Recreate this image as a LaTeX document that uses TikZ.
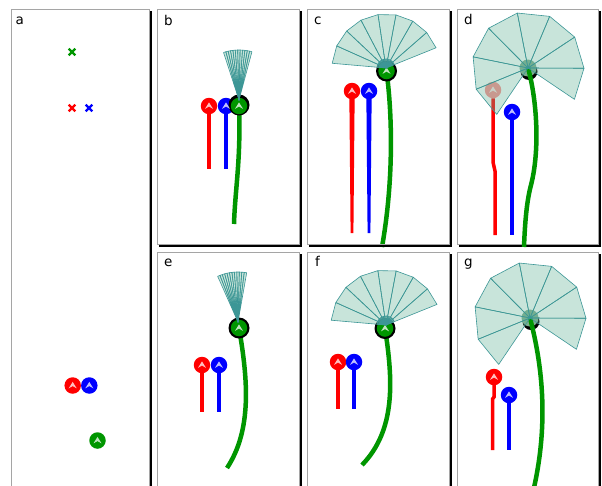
\documentclass[tikz,border=0pt]{standalone}
\usepackage{fontspec}
\setmainfont{DejaVu Sans}
\usetikzlibrary{shapes.misc,calc}
\pgfdeclarelayer{paper}
\pgfdeclarelayer{bg}
\pgfdeclarelayer{fg}
\pgfsetlayers{paper,bg,main,fg}
\definecolor{cR}{RGB}{255,0,0}
\definecolor{cB}{RGB}{0,0,255}
\definecolor{cG}{RGB}{0,150,0}
\definecolor{fanfill}{RGB}{100,180,150}
\definecolor{fanedge}{RGB}{60,150,150}
\definecolor{frm}{RGB}{165,165,165}
\definecolor{hub}{RGB}{125,172,142}
\newcommand\panelbox[4]{%
  \draw[frshade] (#3+2,#2+2) -- (#3+2,#4+2) -- (#1+2,#4+2);
  \draw[frame] (#1,#2) rectangle (#3,#4);}
\tikzset{
  frame/.style={draw=frm, line width=0.9pt},
  frshade/.style={draw=black, line width=1.1pt},
  lab/.style={anchor=base west, inner sep=0pt, font=\fontsize{13.5}{16}\selectfont},
  mk/.style={circle, fill=#1, minimum size=16.5pt, inner sep=0pt},
  ring/.style={circle, fill=black, minimum size=#1, inner sep=0pt},
  hubdisk/.style={circle, fill=hub, minimum size=17pt, inner sep=0pt},
  xmark/.style={cross out, draw=#1, line width=2.2pt, minimum size=4.5pt, inner sep=0pt},
  stem/.style={draw=#1, line width=3.5pt},
  gstem/.style={draw=cG, line width=4.5pt},
  fanseg/.style={fill=fanfill, fill opacity=0.35, draw=fanedge, line width=0.6pt, line join=round},
  pics/chev/.style={code={\fill[white, fill opacity=0.75] (-4,2.8) -- (0,-3.6) -- (4,2.8) -- (0,0.6) -- cycle;}},
  pics/fan/.style n args={4}{code={
    \foreach \k in {1,...,#3}{
      \pgfmathsetmacro\fanA{-(#1+(\k-1)*(#2-#1)/#3)}
      \pgfmathsetmacro\fanB{-(#1+\k*(#2-#1)/#3)}
      \filldraw[fanseg] (0,0) -- (\fanA:#4) -- (\fanB:#4) -- cycle;
    }
  }},
}
\begin{document}
\begin{tikzpicture}[x=1pt,y=-1pt]
\useasboundingbox (0,0) rectangle (602,485);
\clip (0,0) rectangle (602,485);
\begin{pgfonlayer}{paper}
\fill[white] (0,0) rectangle (602,485);
\end{pgfonlayer}

% ---------- panel a
\panelbox{11}{9}{149}{495}
\node[lab] (la) at (15.5,24) {a};
\node[xmark=cG] (ax1) at (72,52) {};
\node[xmark=cR] (ax2) at (72,108) {};
\node[xmark=cB] (ax3) at (89,108) {};
\node[mk=cR] (ar) at (72.7,385.5) {};
\node[mk=cB] (ab) at (89.3,385.5) {};
\node[mk=cG] (ag) at (97.5,440.5) {};
\pic at (ar) {chev};
\pic at (ab) {chev};
\pic at (ag) {chev};

% ---------- panel b
\panelbox{157}{9}{299}{244}
\node[lab] (lb) at (164,25) {b};
\node[mk=cR] (br) at (209,106) {};
\node[mk=cB] (bb) at (226,106) {};
\node[ring=21pt] (bk) at (239,105) {};
\node[mk=cG] (bg) at (239,106) {};
\pic at (br) {chev};
\pic at (bb) {chev};
\pic at (bg) {chev};
\coordinate (brE) at (209,169);
\coordinate (bbE) at (226,169);
\coordinate (bgE) at (234,224);
\coordinate (bf) at (239,100);
\begin{pgfonlayer}{bg}
\draw[stem=cR] (br.center) -- (brE);
\draw[stem=cB] (bb.center) -- (bbE);
\draw[gstem] (bg.center) .. controls (241,160) and (235,190) .. (bgE);
\end{pgfonlayer}
\begin{pgfonlayer}{fg}
\pic at (bf) {fan={108}{75}{12}{50}};
\end{pgfonlayer}

% ---------- panel c
\panelbox{307}{9}{449}{244}
\node[lab] (lc) at (314,24) {c};
\node[mk=cR] (cr) at (352,91) {};
\node[mk=cB] (cb) at (369,91) {};
\node[ring=21pt] (ck) at (386.5,71) {};
\node[mk=cG] (cg) at (386.5,71) {};
\pic at (cr) {chev};
\pic at (cb) {chev};
\pic at (cg) {chev};
\coordinate (crE) at (352,233);
\coordinate (cbE) at (369,233);
\coordinate (cgE) at (382,247);
\coordinate (cf) at (386,68);
\begin{pgfonlayer}{bg}
\fill[cR] ($(cr.center)+(-2.7,0)$) -- ($(cr.center)+(2.7,0)$) -- ($(crE)+(1.4,0)$) -- ($(crE)+(-1.4,0)$) -- cycle;
\fill[cB] ($(cb.center)+(-2.7,0)$) -- ($(cb.center)+(2.7,0)$) -- ($(cbE)+(1.4,0)$) -- ($(cbE)+(-1.4,0)$) -- cycle;
\draw[gstem] (cg.center) .. controls (393,120) and (393,185) .. (cgE);
\end{pgfonlayer}
\begin{pgfonlayer}{fg}
\pic at (cf) {fan={175}{22}{8}{54}};
\pic at (cf) {fan={175}{22}{16}{9}};
\end{pgfonlayer}

% ---------- panel d
\panelbox{457}{9}{598}{244}
\node[lab] (ld) at (464,24) {d};
\node[mk=cR, opacity=0.45] (dr) at (493,90) {};
\node[mk=cB] (db) at (512,112) {};
\pic[opacity=0.6] at (dr) {chev};
\pic at (db) {chev};
\node[ring=17pt] (dk) at (529,71.5) {};
\node[hubdisk] (dh) at (528,68) {};
\coordinate (drM1) at (493,162);
\coordinate (drM2) at (495,171);
\coordinate (drE) at (495,235);
\coordinate (dbE) at (512,235);
\coordinate (dgM) at (531,185);
\coordinate (dgE) at (524,247);
\begin{pgfonlayer}{bg}
\draw[stem=cR] (dr.south) -- (drM1) -- (drM2) -- (drE);
\draw[stem=cB] (db.center) -- (dbE);
\end{pgfonlayer}
\draw[gstem] (dh.center) .. controls (537,100) and (540,150) .. (dgM) .. controls (527,200) and (525,220) .. (dgE);
\begin{pgfonlayer}{fg}
\pic at (dh.center) {fan={236}{-34}{8}{56}};
\end{pgfonlayer}

% ---------- panel e
\panelbox{157}{252}{299}{495}
\node[lab] (le) at (164,266.5) {e};
\node[mk=cR] (er) at (202,365) {};
\node[mk=cB] (eb) at (219,365) {};
\node[ring=21pt] (ek) at (239,328) {};
\node[mk=cG] (eg) at (239,328) {};
\pic at (er) {chev};
\pic at (eb) {chev};
\pic at (eg) {chev};
\coordinate (erE) at (202,412);
\coordinate (ebE) at (219,412);
\coordinate (egE) at (227,468);
\coordinate (ef) at (238,322);
\begin{pgfonlayer}{bg}
\draw[stem=cR] (er.center) -- (erE);
\draw[stem=cB] (eb.center) -- (ebE);
\draw[gstem] (eg.center) .. controls (248,380) and (252,430) .. (egE);
\end{pgfonlayer}
\begin{pgfonlayer}{fg}
\pic at (ef) {fan={114}{80}{12}{50}};
\end{pgfonlayer}

% ---------- panel f
\panelbox{307}{252}{449}{495}
\node[lab] (lf) at (315,266.5) {f};
\node[mk=cR] (fr) at (338,362) {};
\node[mk=cB] (fb) at (354,362) {};
\node[ring=21pt] (fk) at (385,328.5) {};
\node[mk=cG] (fg) at (385,328.5) {};
\pic at (fr) {chev};
\pic at (fb) {chev};
\pic at (fg) {chev};
\coordinate (frE) at (338,409);
\coordinate (fbE) at (354,409);
\coordinate (fgE) at (362,465);
\coordinate (ff) at (386,325);
\begin{pgfonlayer}{bg}
\draw[stem=cR] (fr.center) -- (frE);
\draw[stem=cB] (fb.center) -- (fbE);
\draw[gstem] (fg.center) .. controls (393,380) and (396,430) .. (fgE);
\end{pgfonlayer}
\begin{pgfonlayer}{fg}
\pic at (ff) {fan={175}{22}{8}{55}};
\pic at (ff) {fan={175}{22}{16}{9}};
\end{pgfonlayer}

% ---------- panel g
\panelbox{457}{252}{598}{495}
\node[lab] (lg) at (464,266.5) {g};
\node[mk=cR] (gr) at (494,377) {};
\node[mk=cB] (gb) at (509,395) {};
\pic at (gr) {chev};
\pic at (gb) {chev};
\node[ring=17pt] (gk) at (531,321.5) {};
\node[hubdisk] (gh) at (530,318) {};
\coordinate (grM1) at (494,397);
\coordinate (grM2) at (492.5,399);
\coordinate (grE) at (492.5,450);
\coordinate (gbE) at (509,450);
\coordinate (ggE) at (533,492);
\begin{pgfonlayer}{bg}
\draw[stem=cR] (gr.center) -- (grM1) -- (grM2) -- (grE);
\draw[stem=cB] (gb.center) -- (gbE);
\end{pgfonlayer}
\draw[gstem] (gh.center) .. controls (541,360) and (550,420) .. (ggE);
\begin{pgfonlayer}{fg}
\pic at (gh.center) {fan={236}{-34}{8}{56}};
\end{pgfonlayer}
\end{tikzpicture}
\end{document}
